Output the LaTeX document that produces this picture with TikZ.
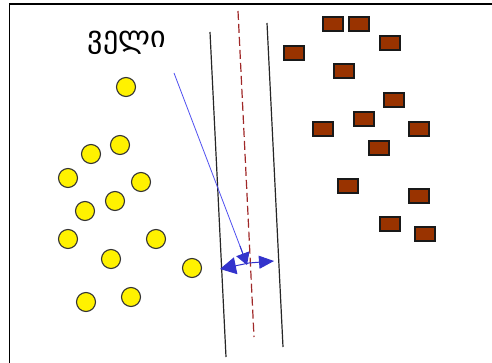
\documentclass[tikz,border=0pt]{standalone}
\usepackage{fontspec}
\newfontfamily\geo{DejaVu Sans}
\usetikzlibrary{arrows.meta}
\definecolor{brick}{RGB}{153,51,0}
\definecolor{arrblue}{RGB}{51,51,204}
\definecolor{lineblue}{RGB}{80,80,240}
\definecolor{dred}{RGB}{160,40,40}
\begin{document}
\begin{tikzpicture}[x=1pt,y=-1pt,
  dot/.style={circle,fill=yellow,draw=black!80,line width=1.1pt,minimum size=19pt,inner sep=0pt},
  brick/.style={rectangle,fill=brick,draw=black!90,line width=1.2pt,minimum width=20pt,minimum height=14pt,inner sep=0pt},
  tri/.style={arrblue,line width=1pt}]
\useasboundingbox (0,0) rectangle (492,363);
\fill[white] (0,0) rectangle (492,363);
\draw[line width=1.2pt] (9.5,363) -- (9.5,4) -- (492,4);
% label
\node[font=\geo\fontsize{30}{32}\selectfont] (lbl) at (127,43) {ველი};
% circles
\foreach \n/\x/\y in {c1/126/87,c2/120/145,c3/91/154,c4/68/178,c5/141/182,c6/115/201,c7/85/211,c8/68/239,c9/156/239,c10/111/259,c11/192/268,c12/86/302,c13/131/297}
  \node[dot] (\n) at (\x,\y) {};
% bricks
\foreach \n/\x/\y in {r1/333/24,r2/359/24,r3/390/43,r4/294/53,r5/344/71,r6/394/100,r7/364/119,r8/323/129,r9/419/129,r10/379/148,r11/348/186,r12/419/196,r13/390/224,r14/425/234}
  \node[brick] (\n) at (\x,\y) {};
% hyperplane lines
\coordinate (la) at (210,32); \coordinate (lb) at (226,357);
\coordinate (ra) at (267,23); \coordinate (rb) at (283,347);
\coordinate (ma) at (238,11); \coordinate (mb) at (254,337);
\draw[black!85,line width=1.2pt] (la) -- (lb);
\draw[black!85,line width=1.2pt] (ra) -- (rb);
\draw[dred,line width=1.2pt,dash pattern=on 9pt off 4pt] (ma) -- (mb);
% margin arrows
\coordinate (ctr) at (249,263);
\coordinate (lft) at (220,269);
\coordinate (rgt) at (274,261);
\coordinate (blueS) at (174,73);
\coordinate (blueE) at (247,265);
\draw[lineblue,line width=0.8pt] (blueS) -- (243,254);
\draw[tri,-{Triangle[length=16pt,width=17pt]}] (ctr) -- (lft);
\draw[tri,-{Triangle[length=15pt,width=13pt]}] (ctr) -- (rgt);
\draw[tri,-{Triangle[length=12pt,width=14pt]}] (240,246) -- (blueE);
\end{tikzpicture}
\end{document}
